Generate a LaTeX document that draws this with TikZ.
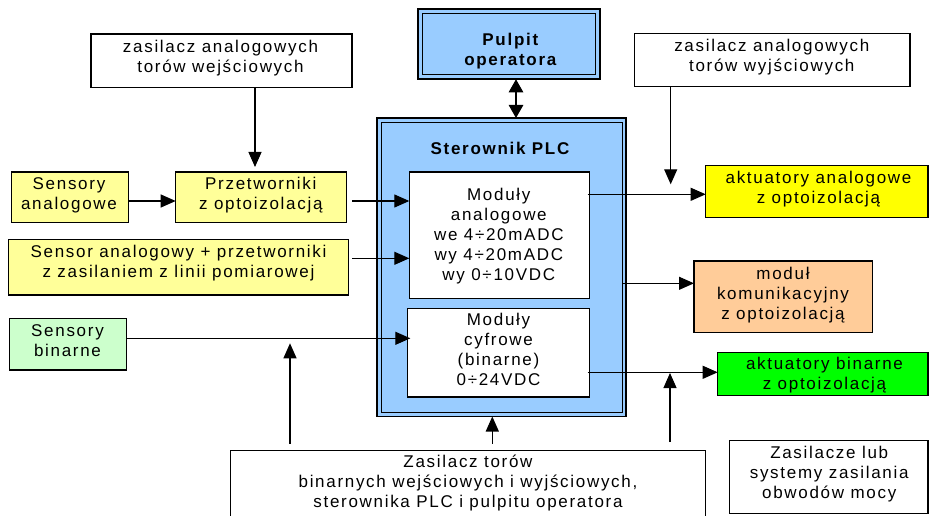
\documentclass[tikz,border=0pt]{standalone}
\usepackage{fontspec}
\setmainfont{Liberation Sans}[LetterSpace=10]
\usetikzlibrary{arrows.meta,calc}

\definecolor{paleyellow}{HTML}{FFFF99}
\definecolor{palegreen}{HTML}{CCFFCC}
\definecolor{plcblue}{HTML}{99CCFF}
\definecolor{peach}{HTML}{FFCC99}
\definecolor{brightyellow}{HTML}{FFFF00}
\definecolor{brightgreen}{HTML}{00FF00}

% box given by its left, top, right and bottom edges
\newcommand\mkbox[6]{\node[blk,#1,minimum width={#5-#3},minimum height={#6-#4}] (#2) at ({(#3+#5)/2},{(#4+#6)/2}) {};}

\begin{document}
\begin{tikzpicture}[x=1pt,y=-1pt,
  blk/.style={rectangle,draw=black,line width=1.3pt,inner sep=0pt,outer sep=0pt},
  lbl/.style={inner sep=0pt,align=center,font=\fontsize{17}{20}\selectfont,
    execute at begin node=\strut,execute at end node=\strut},
  conn/.style={line width=1.1pt,-{Triangle[length=15pt,width=13pt]}},
  both/.style={line width=1.1pt,{Triangle[length=13pt,width=14.5pt]}-{Triangle[length=13pt,width=14.5pt]}},
]
\useasboundingbox (0,0) rectangle (929,516);
\clip (0,0) rectangle (929,516);
\fill[white] (0,0) rectangle (929,516);

% PLC controller with double frame
\mkbox{fill=plcblue,line width=1.7pt}{plc}{377}{118}{626.3}{416.5}
\draw[line width=1pt] ($(plc.north west)+(4.3,4.3)$) rectangle ($(plc.south east)+(-4.3,-4.3)$);
\node[lbl,font=\fontsize{17}{20}\selectfont\bfseries] (plcT) at (500,150) {Sterownik PLC};

% operator panel with double frame
\mkbox{fill=plcblue,line width=1.7pt}{pulpit}{418.3}{9.3}{600}{79.3}
\draw[line width=1pt] ($(pulpit.north west)+(4.3,4.3)$) rectangle ($(pulpit.south east)+(-4.3,-4.3)$);
\node[lbl,font=\fontsize{17}{20}\selectfont\bfseries] (pulpitT) at (510.3,52.7) {Pulpit\\operatora};

% I/O modules
\mkbox{fill=white}{modA}{409.3}{172}{589.7}{298.3}
\node[lbl] (modAT) at (498.8,237.7) {Moduły\\analogowe\\we 4÷20mADC\\wy 4÷20mADC\\wy 0÷10VDC};
\mkbox{fill=white}{modC}{407.3}{308.5}{589.7}{397}
\node[lbl] (modCT) at (498.5,352) {Moduły\\cyfrowe\\(binarne)\\0÷24VDC};

% supplies
\mkbox{fill=white}{zasIn}{91}{34}{352}{87.3}
\node[lbl] (zasInT) at (220.5,59.3) {zasilacz analogowych\\torów wejściowych};
\mkbox{fill=white}{zasOut}{634.3}{33.3}{910}{86.7}
\node[lbl] (zasOutT) at (771.8,58.3) {zasilacz analogowych\\torów wyjściowych};
\mkbox{fill=white}{zasB}{230.5}{450.5}{705.5}{560}
\node[lbl] (zasBT) at (468,484) {Zasilacz torów\\binarnych wejściowych i wyjściowych,\\sterownika PLC i pulpitu operatora};
\mkbox{fill=white}{zasM}{729.3}{440.7}{928}{513.3}
\node[lbl] (zasMT) at (829.2,475.3) {Zasilacze lub\\systemy zasilania\\obwodów mocy};

% inputs
\mkbox{fill=paleyellow}{sensA}{11.7}{172}{128.3}{222.7}
\node[lbl] (sensAT) at (69,196.7) {Sensory\\analogowe};
\mkbox{fill=paleyellow}{przetw}{175.7}{172}{346.7}{222.7}
\node[lbl] (przetwT) at (260.8,196.7) {Przetworniki\\z optoizolacją};
\mkbox{fill=paleyellow}{sensAP}{8.3}{239.3}{348.7}{295}
\node[lbl] (sensAPT) at (178.5,264.3) {Sensor analogowy + przetworniki\\z zasilaniem z linii pomiarowej};
\mkbox{fill=palegreen}{sensB}{9.3}{318.3}{126.7}{370}
\node[lbl] (sensBT) at (67.5,343.3) {Sensory\\binarne};

% outputs
\mkbox{fill=brightyellow}{aktA}{705.7}{165.7}{928}{217.3}
\node[lbl] (aktAT) at (818.5,190.3) {aktuatory analogowe\\z optoizolacją};
\mkbox{fill=peach}{kom}{694}{261}{872.7}{332.7}
\node[lbl] (komT) at (783,296) {moduł\\komunikacyjny\\z optoizolacją};
\mkbox{fill=brightgreen}{aktB}{717.7}{352.3}{928}{395.7}
\node[lbl] (aktBT) at (824.5,376.7) {aktuatory binarne\\z optoizolacją};

% free arrow ends
\coordinate (tA) at (255,167);
\coordinate (tB) at (290,343.3);
\coordinate (tD) at (670,373);
\coordinate (tE) at (670.7,184.3);

% connectors
\draw[both] (516,0 |- pulpit.south) -- (516,0 |- plc.north);
\draw[conn] (tA |- zasIn.south) -- (tA);
\draw[conn] (sensA.east |- 0,201) -- (przetw.west |- 0,201);
\draw[conn] ($(przetw.east |- 0,201)+(5.3,0)$) -- (modA.west |- 0,201);
\draw[conn] ($(sensAP.east |- 0,258.3)+(3.3,0)$) -- (modA.west |- 0,258.3);
\draw[conn] (sensB.east |- 0,338.3) -- ($(modC.west |- 0,338.3)+(3,0)$);
\draw[conn] ($(tB |- zasB.north)+(0,-7)$) -- (tB);
\draw[conn] ($(492.3,0 |- zasB.north)+(0,-7)$) -- (492.3,0 |- plc.south);
\draw[conn] ($(tD |- zasB.north)+(0,-8.5)$) -- (tD);
\draw[conn] ($(modA.east |- 0,194.3)+(-2,0)$) -- (aktA.west |- 0,194.3);
\draw[conn] (tE |- zasOut.south) -- (tE);
\draw[conn] ($(plc.east |- 0,283.3)+(-4.3,0)$) -- (kom.west |- 0,283.3);
\draw[conn] ($(modC.east |- 0,372.3)+(-2,0)$) -- (aktB.west |- 0,372.3);
\end{tikzpicture}
\end{document}
